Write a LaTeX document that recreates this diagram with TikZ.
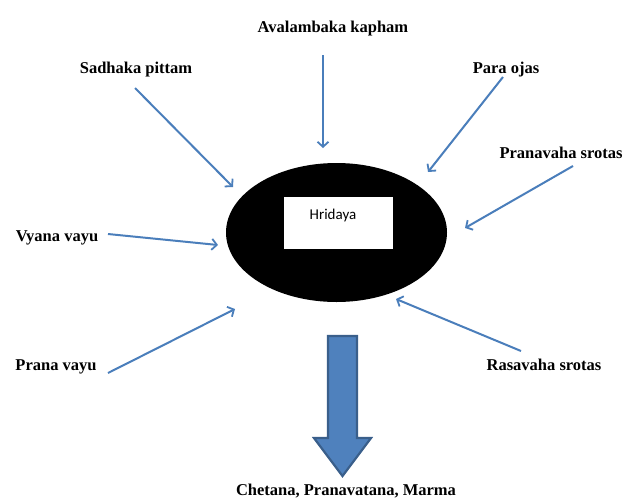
\documentclass[tikz,border=0pt]{standalone}
\usepackage{fontspec}
\setmainfont{Liberation Serif}
\newfontfamily\carlito{Carlito}
\usetikzlibrary{arrows.meta,shapes.geometric}
\definecolor{arrblue}{HTML}{4A7EBB}
\definecolor{blockfill}{HTML}{4F81BD}
\definecolor{blockdraw}{HTML}{3A5F8B}
\begin{document}
\begin{tikzpicture}[x=1pt,y=-1pt,
  lab/.style={font=\fontsize{16.5}{16.5}\bfseries\selectfont, inner sep=0pt, anchor=base, text=black},
  feed/.style={draw=arrblue, line width=2pt,
    -{Straight Barb[length=5pt,width=11pt,line width=1.8pt]}},
]
\useasboundingbox (0,0) rectangle (633,499);
\fill[white] (0,0) rectangle (633,499);

% centre
\node[ellipse, fill=black, minimum width=221pt, minimum height=139pt, inner sep=0pt] (heart) at (336.5,232.5) {};
\node[rectangle, fill=white, minimum width=109pt, minimum height=52pt, inner sep=0pt] (hbox) at (338.5,223) {};
\node[font=\carlito\fontsize{15}{15}\selectfont, inner sep=0pt] (hlabel) at (333,215) {Hridaya};

% labels
\node[lab] (ak) at (333,32) {Avalambaka kapham};
\node[lab] (sp) at (136,73) {Sadhaka pittam};
\node[lab] (po) at (506,73) {Para ojas};
\node[lab] (pv) at (561,158) {Pranavaha srotas};
\node[lab] (vv) at (57,241) {Vyana vayu};
\node[lab] (pr) at (56,370) {Prana vayu};
\node[lab] (rs) at (544,370) {Rasavaha srotas};
\node[lab] (out) at (346,495) {Chetana, Pranavatana, Marma};

% arrow end points
\coordinate (ak1) at (323,55);  \coordinate (ak2) at (323,148);
\coordinate (sp1) at (135,88);  \coordinate (sp2) at (233,187);
\coordinate (po1) at (503,77);  \coordinate (po2) at (428,172);
\coordinate (pv1) at (573,166); \coordinate (pv2) at (465,228);
\coordinate (vv1) at (108,234); \coordinate (vv2) at (218,245);
\coordinate (pr1) at (108,373); \coordinate (pr2) at (235,309);
\coordinate (rs1) at (521,351); \coordinate (rs2) at (396,299);

\draw[feed] (ak1) -- (ak2);
\draw[feed] (sp1) -- (sp2);
\draw[feed] (po1) -- (po2);
\draw[feed] (pv1) -- (pv2);
\draw[feed] (vv1) -- (vv2);
\draw[feed] (pr1) -- (pr2);
\draw[feed] (rs1) -- (rs2);

% block arrow
\draw[fill=blockfill, draw=blockdraw, line width=2.2pt, line join=miter]
  (328,336) -- (357,336) -- (357,438) -- (371,438) -- (342.5,476)
  -- (314,438) -- (328,438) -- cycle;
\end{tikzpicture}
\end{document}
